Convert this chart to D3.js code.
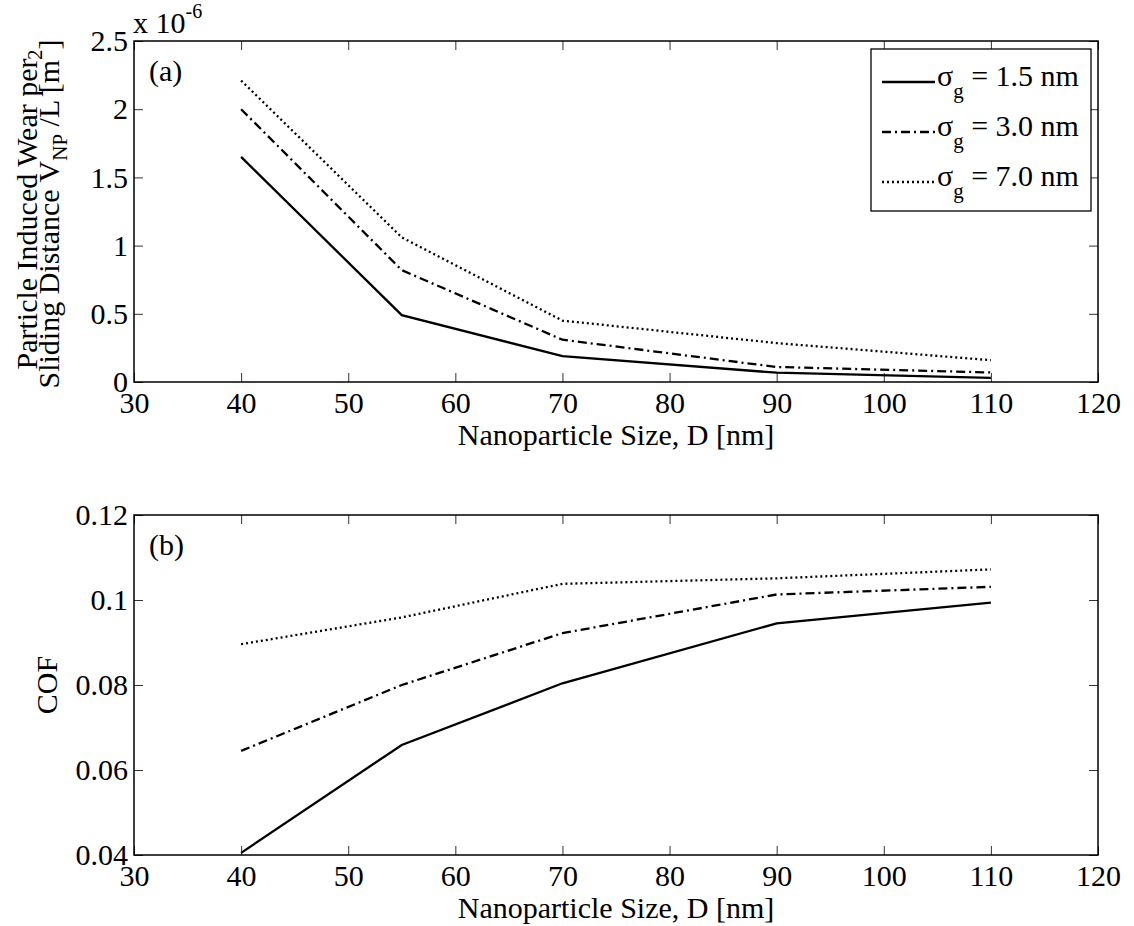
<!DOCTYPE html>
<html>
<head>
<meta charset="utf-8">
<script src="https://cdn.jsdelivr.net/npm/d3@7"></script>
<style>
    body { margin: 0; background: #fff; }
    svg text { font-family: "Liberation Serif", "Times New Roman", serif; fill: #000; }
</style>
</head>
<body>
<svg id="chart" width="1134" height="926"></svg>
<script>
/* ---------------- data ---------------- */
let sizes = [40, 55, 70, 90, 110]

let wearSg15 = [1.65, 0.49, 0.19, 0.068, 0.03]
let wearSg30 = [2.0, 0.82, 0.31, 0.11, 0.07]
let wearSg70 = [2.21, 1.06, 0.45, 0.285, 0.16]

let cofSg15 = [0.0405, 0.0659, 0.0804, 0.0945, 0.0994]
let cofSg30 = [0.0645, 0.080, 0.0922, 0.1013, 0.1031]
let cofSg70 = [0.0896, 0.0959, 0.1038, 0.1051, 0.1072]

let seriesNames = ['1.5', '3.0', '7.0']
let xTicks = [30, 40, 50, 60, 70, 80, 90, 100, 110, 120]
let wearTicks = [0, 0.5, 1, 1.5, 2, 2.5]
let cofTicks = [0.04, 0.06, 0.08, 0.1, 0.12]

/* ---------------- styles ---------------- */
let dashes = ['none', '9,4,2,4', '2,3']
let fontSize = 30

let svg = d3.select('#chart')
let left = 134, right = 1098

let x = d3.scaleLinear().domain([30, 120]).range([left, right])

function drawPanel(top, bottom, yDomain, yTicks, series, tag) {
    let y = d3.scaleLinear().domain(yDomain).range([bottom, top])
    let g = svg.append('g')
    let tick = 9

    // ticks, all four sides, pointing inward
    g.append('g').attr('transform', 'translate(0,' + bottom + ')')
        .call(d3.axisBottom(x).tickValues(xTicks).tickSizeInner(-tick).tickSizeOuter(0).tickPadding(10))
    g.append('g').attr('transform', 'translate(0,' + top + ')')
        .call(d3.axisTop(x).tickValues(xTicks).tickSizeInner(-tick).tickSizeOuter(0).tickFormat(''))
    g.append('g').attr('transform', 'translate(' + left + ',0)')
        .call(d3.axisLeft(y).tickValues(yTicks).tickSizeInner(-tick).tickSizeOuter(0).tickPadding(6).tickFormat(d3.format('~g')))
    g.append('g').attr('transform', 'translate(' + right + ',0)')
        .call(d3.axisRight(y).tickValues(yTicks).tickSizeInner(-tick).tickSizeOuter(0).tickFormat(''))

    g.selectAll('.domain').remove()
    g.selectAll('.tick line').attr('stroke', '#333').attr('stroke-width', 1)
    g.selectAll('.tick text').attr('font-size', fontSize).attr('font-family', '"Liberation Serif", serif')

    g.append('rect')
        .attr('x', left).attr('y', top)
        .attr('width', right - left).attr('height', bottom - top)
        .attr('fill', 'none').attr('stroke', '#000').attr('stroke-width', 1.5)

    let line = d3.line()
        .x(function (d, i) { return x(sizes[i]) })
        .y(function (d) { return y(d) })

    series.forEach(function (s, i) {
        g.append('path')
            .datum(s)
            .attr('d', line)
            .attr('fill', 'none')
            .attr('stroke', '#000')
            .attr('stroke-width', 2.3)
            .attr('stroke-dasharray', dashes[i])
    })

    g.append('text')
        .attr('x', left + 15).attr('y', top + 40)
        .attr('font-size', fontSize)
        .text(tag)

    g.append('text')
        .attr('x', (left + right) / 2).attr('y', bottom + 63)
        .attr('text-anchor', 'middle')
        .attr('font-size', fontSize)
        .text('Nanoparticle Size, D [nm]')

    return y
}

/* ---------------- (a) wear ---------------- */
drawPanel(41, 382, [0, 2.5], wearTicks, [wearSg15, wearSg30, wearSg70], '(a)')

let mult = svg.append('text').attr('x', 133).attr('y', 33).attr('font-size', fontSize)
mult.append('tspan').text('x 10')
mult.append('tspan').attr('font-size', 20).attr('dy', -15).text('-6')

let yLabA = svg.append('g').attr('transform', 'translate(0,214)')
yLabA.append('text')
    .attr('transform', 'translate(37,0) rotate(-90)')
    .attr('text-anchor', 'middle')
    .attr('font-size', fontSize)
    .text('Particle Induced Wear per')
let line2 = yLabA.append('text')
    .attr('transform', 'translate(59,0) rotate(-90)')
    .attr('text-anchor', 'middle')
    .attr('font-size', fontSize)
line2.append('tspan').text('Sliding Distance V')
line2.append('tspan').attr('font-size', 21).attr('dy', 8).text('NP')
line2.append('tspan').attr('dy', -8).text(' /L [m')
line2.append('tspan').attr('font-size', 21).attr('dy', -17).text('2')
line2.append('tspan').attr('dy', 17).text(']')

/* legend */
let legend = svg.append('g')
legend.append('rect')
    .attr('x', 871).attr('y', 49).attr('width', 220).attr('height', 162)
    .attr('fill', '#fff').attr('stroke', '#000').attr('stroke-width', 1.3)

seriesNames.forEach(function (name, i) {
    let ly = 82 + i * 50
    legend.append('line')
        .attr('x1', 882).attr('x2', 935).attr('y1', ly).attr('y2', ly)
        .attr('stroke', '#000').attr('stroke-width', 2.3)
        .attr('stroke-dasharray', dashes[i])
    let t = legend.append('text').attr('x', 937).attr('y', ly + 4).attr('font-size', fontSize)
    t.append('tspan').text('σ')
    t.append('tspan').attr('font-size', 21).attr('dy', 12).text('g')
    t.append('tspan').attr('dy', -12).text(' = ' + name + ' nm')
})

/* ---------------- (b) COF ---------------- */
drawPanel(515, 855, [0.04, 0.12], cofTicks, [cofSg15, cofSg30, cofSg70], '(b)')

svg.append('text')
    .attr('transform', 'translate(57,685) rotate(-90)')
    .attr('text-anchor', 'middle')
    .attr('font-size', fontSize)
    .text('COF')
</script>
</body>
</html>
